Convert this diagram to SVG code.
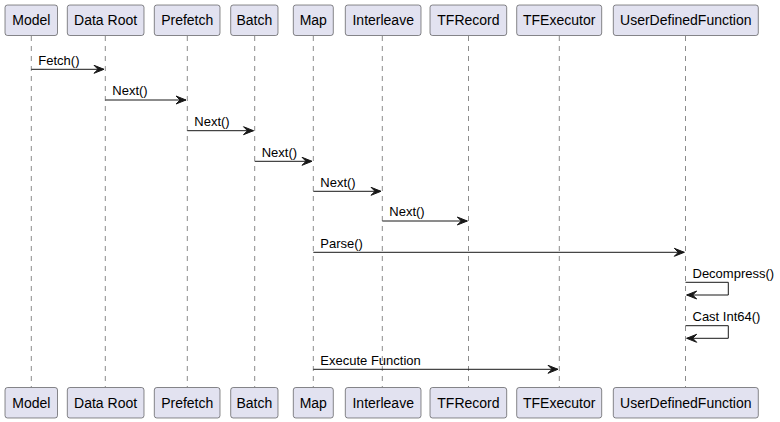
<svg xmlns="http://www.w3.org/2000/svg" width="780" height="422" viewBox="0 0 780 422">
<defs>
<style>
.bg{fill:#FFFFFF}
.life{stroke:#181818;stroke-width:0.5;stroke-dasharray:5,5;fill:none}
.box{fill:#E2E2F0;stroke:#181818;stroke-width:0.5}
.bt{font-family:"Liberation Sans",Arial,sans-serif;font-size:14px;fill:#000000;text-anchor:middle}
.msg{stroke:#181818;stroke-width:1;fill:none}
.ml{font-family:"Liberation Sans",Arial,sans-serif;font-size:13px;fill:#000000}
.ah{fill:#181818;stroke:#181818;stroke-width:1}
</style>
</defs>
<rect class="bg" x="0" y="0" width="780" height="422"/>
<g id="lifelines">
<line class="life" x1="31.3" y1="36" x2="31.3" y2="387"/>
<line class="life" x1="105.3" y1="36" x2="105.3" y2="387"/>
<line class="life" x1="187.3" y1="36" x2="187.3" y2="387"/>
<line class="life" x1="254.7" y1="36" x2="254.7" y2="387"/>
<line class="life" x1="313.3" y1="36" x2="313.3" y2="387"/>
<line class="life" x1="382.3" y1="36" x2="382.3" y2="387"/>
<line class="life" x1="468.5" y1="36" x2="468.5" y2="387"/>
<line class="life" x1="559.3" y1="36" x2="559.3" y2="387"/>
<line class="life" x1="685.5" y1="36" x2="685.5" y2="387"/>
</g>
<g id="node-model">
<rect class="box" x="5" y="5" width="52.5" height="30.5" rx="2.5"/><text class="bt" x="31.3" y="25">Model</text>
<rect class="box" x="5" y="387.5" width="52.5" height="30.5" rx="2.5"/><text class="bt" x="31.3" y="407.5">Model</text>
</g>
<g id="node-dataroot">
<rect class="box" x="67.3" y="5" width="76.7" height="30.5" rx="2.5"/><text class="bt" x="105.6" y="25">Data Root</text>
<rect class="box" x="67.3" y="387.5" width="76.7" height="30.5" rx="2.5"/><text class="bt" x="105.6" y="407.5">Data Root</text>
</g>
<g id="node-prefetch">
<rect class="box" x="154.3" y="5" width="65.7" height="30.5" rx="2.5"/><text class="bt" x="187.2" y="25">Prefetch</text>
<rect class="box" x="154.3" y="387.5" width="65.7" height="30.5" rx="2.5"/><text class="bt" x="187.2" y="407.5">Prefetch</text>
</g>
<g id="node-batch">
<rect class="box" x="230.7" y="5" width="47.3" height="30.5" rx="2.5"/><text class="bt" x="254.4" y="25">Batch</text>
<rect class="box" x="230.7" y="387.5" width="47.3" height="30.5" rx="2.5"/><text class="bt" x="254.4" y="407.5">Batch</text>
</g>
<g id="node-map">
<rect class="box" x="293.3" y="5" width="40" height="30.5" rx="2.5"/><text class="bt" x="313.3" y="25">Map</text>
<rect class="box" x="293.3" y="387.5" width="40" height="30.5" rx="2.5"/><text class="bt" x="313.3" y="407.5">Map</text>
</g>
<g id="node-interleave">
<rect class="box" x="345.3" y="5" width="75.7" height="30.5" rx="2.5"/><text class="bt" x="383.2" y="25">Interleave</text>
<rect class="box" x="345.3" y="387.5" width="75.7" height="30.5" rx="2.5"/><text class="bt" x="383.2" y="407.5">Interleave</text>
</g>
<g id="node-tfrecord">
<rect class="box" x="430" y="5" width="76.7" height="30.5" rx="2.5"/><text class="bt" x="468.4" y="25">TFRecord</text>
<rect class="box" x="430" y="387.5" width="76.7" height="30.5" rx="2.5"/><text class="bt" x="468.4" y="407.5">TFRecord</text>
</g>
<g id="node-tfexecutor">
<rect class="box" x="516.7" y="5" width="85" height="30.5" rx="2.5"/><text class="bt" x="559.2" y="25">TFExecutor</text>
<rect class="box" x="516.7" y="387.5" width="85" height="30.5" rx="2.5"/><text class="bt" x="559.2" y="407.5">TFExecutor</text>
</g>
<g id="node-udf">
<rect class="box" x="613.3" y="5" width="145" height="30.5" rx="2.5"/><text class="bt" x="685.8" y="25">UserDefinedFunction</text>
<rect class="box" x="613.3" y="387.5" width="145" height="30.5" rx="2.5"/><text class="bt" x="685.8" y="407.5">UserDefinedFunction</text>
</g>
<g id="connectors">
<line class="msg" x1="31.3" y1="69.3" x2="104" y2="69.3"/><polygon class="ah" points="94,65.3 104,69.3 94,73.3 98,69.3"/>
<text class="ml" x="38.3" y="64.5">Fetch()</text>
<line class="msg" x1="105.3" y1="100" x2="186" y2="100"/><polygon class="ah" points="176,96 186,100 176,104 180,100"/>
<text class="ml" x="112.3" y="95.2">Next()</text>
<line class="msg" x1="187.3" y1="130.7" x2="253.5" y2="130.7"/><polygon class="ah" points="243.5,126.7 253.5,130.7 243.5,134.7 247.5,130.7"/>
<text class="ml" x="194.3" y="125.9">Next()</text>
<line class="msg" x1="254.7" y1="161.3" x2="312" y2="161.3"/><polygon class="ah" points="302,157.3 312,161.3 302,165.3 306,161.3"/>
<text class="ml" x="261.7" y="156.5">Next()</text>
<line class="msg" x1="313.3" y1="191.3" x2="381" y2="191.3"/><polygon class="ah" points="371,187.3 381,191.3 371,195.3 375,191.3"/>
<text class="ml" x="320.3" y="186.5">Next()</text>
<line class="msg" x1="382.3" y1="221" x2="467.3" y2="221"/><polygon class="ah" points="457.3,217 467.3,221 457.3,225 461.3,221"/>
<text class="ml" x="389.3" y="216.2">Next()</text>
<line class="msg" x1="313.3" y1="252.3" x2="684.3" y2="252.3"/><polygon class="ah" points="674.3,248.3 684.3,252.3 674.3,256.3 678.3,252.3"/>
<text class="ml" x="320.3" y="247.5">Parse()</text>
<polyline class="msg" points="685.5,282.3 728.3,282.3 728.3,295 686.7,295"/><polygon class="ah" points="696.7,291 686.7,295 696.7,299 692.7,295"/>
<text class="ml" x="692.5" y="277.5">Decompress()</text>
<polyline class="msg" points="685.5,325.7 728.3,325.7 728.3,338.3 686.7,338.3"/><polygon class="ah" points="696.7,334.3 686.7,338.3 696.7,342.3 692.7,338.3"/>
<text class="ml" x="692.5" y="320.9">Cast Int64()</text>
<line class="msg" x1="313.3" y1="369.3" x2="558" y2="369.3"/><polygon class="ah" points="548,365.3 558,369.3 548,373.3 552,369.3"/>
<text class="ml" x="320.3" y="364.5">Execute Function</text>
</g>
</svg>
